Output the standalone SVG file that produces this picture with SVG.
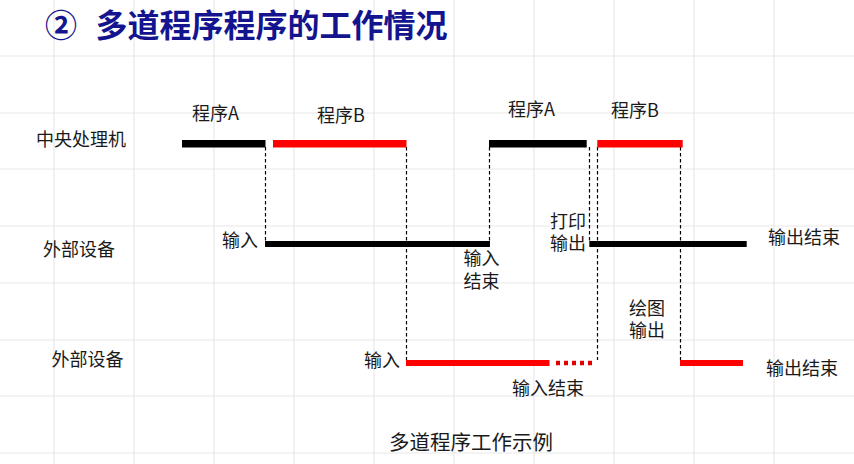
<svg xmlns="http://www.w3.org/2000/svg" width="854" height="464" viewBox="0 0 854 464">
  <style>
    .grid line { stroke: #e8e8e8; stroke-width: 1.2; }
    .lbl { font-family: "Noto Sans CJK SC", "Liberation Serif", sans-serif; font-size: 18px; fill: #1a1a1a; }
    .title { font-family: "Noto Sans CJK SC", "Liberation Sans", sans-serif; font-size: 32px; font-weight: 700; fill: #14148f; }
    .dash { stroke: #000; stroke-width: 1.2; stroke-dasharray: 3.5 2.5; fill: none; }
    .blk { fill: #000; }
    .red { fill: #ff0000; }
  </style>
  <rect x="0" y="0" width="854" height="464" fill="#ffffff"/>
  <g class="grid">
    <line x1="54" y1="0" x2="54" y2="464"/>
    <line x1="134" y1="0" x2="134" y2="464"/>
    <line x1="214" y1="0" x2="214" y2="464"/>
    <line x1="294" y1="0" x2="294" y2="464"/>
    <line x1="374" y1="0" x2="374" y2="464"/>
    <line x1="454" y1="0" x2="454" y2="464"/>
    <line x1="534" y1="0" x2="534" y2="464"/>
    <line x1="614" y1="0" x2="614" y2="464"/>
    <line x1="694" y1="0" x2="694" y2="464"/>
    <line x1="774" y1="0" x2="774" y2="464"/>
    <line x1="0" y1="56" x2="854" y2="56"/>
    <line x1="0" y1="113" x2="854" y2="113"/>
    <line x1="0" y1="169" x2="854" y2="169"/>
    <line x1="0" y1="226" x2="854" y2="226"/>
    <line x1="0" y1="283" x2="854" y2="283"/>
    <line x1="0" y1="340" x2="854" y2="340"/>
    <line x1="0" y1="396" x2="854" y2="396"/>
    <line x1="0" y1="453" x2="854" y2="453"/>
  </g>

  <g id="title">
    <text class="title" x="45" y="37">②</text>
    <text class="title" x="95.5" y="37">多道程序程序的工作情况</text>
  </g>

  <g id="row-labels">
    <text class="lbl" x="36" y="146">中央处理机</text>
    <text class="lbl" x="43" y="256">外部设备</text>
    <text class="lbl" x="51.5" y="366">外部设备</text>
  </g>

  <g id="connectors">
    <line class="dash" x1="265.5" y1="147" x2="265.5" y2="241"/>
    <line class="dash" x1="406.5" y1="147" x2="406.5" y2="360"/>
    <line class="dash" x1="489.5" y1="147" x2="489.5" y2="241"/>
    <line class="dash" x1="589.5" y1="147" x2="589.5" y2="241"/>
    <line class="dash" x1="597.5" y1="147" x2="597.5" y2="360"/>
    <line class="dash" x1="680.5" y1="147" x2="680.5" y2="360"/>
  </g>

  <g id="cpu-progA-1">
    <rect class="blk" x="182" y="140" width="83.5" height="7.5"/>
    <text class="lbl" x="192" y="120">程序A</text>
  </g>
  <g id="cpu-progB-1">
    <rect class="red" x="273" y="140" width="133.5" height="7.5"/>
    <text class="lbl" x="317" y="122">程序B</text>
  </g>
  <g id="cpu-progA-2">
    <rect class="blk" x="489" y="140" width="97.7" height="7.5"/>
    <text class="lbl" x="508" y="116">程序A</text>
  </g>
  <g id="cpu-progB-2">
    <rect class="red" x="597.3" y="140" width="85.4" height="7.5"/>
    <text class="lbl" x="611" y="116.5">程序B</text>
  </g>

  <g id="dev1-input">
    <rect class="blk" x="265" y="241" width="225" height="6"/>
    <text class="lbl" x="222" y="247">输入</text>
    <text class="lbl" y="265"><tspan x="463.5">输入</tspan><tspan x="463.5" dy="22.5">结束</tspan></text>
  </g>
  <g id="dev1-print">
    <rect class="blk" x="589.3" y="241" width="157.4" height="6"/>
    <text class="lbl" y="227.5"><tspan x="550">打印</tspan><tspan x="550" dy="22.5">输出</tspan></text>
    <text class="lbl" x="768" y="243.5">输出结束</text>
  </g>

  <g id="dev2-input">
    <rect class="red" x="406" y="360" width="143.5" height="6"/>
    <line x1="556" y1="363" x2="592" y2="363" stroke="#e00000" stroke-width="4.5" stroke-dasharray="4 4"/>
    <text class="lbl" x="364" y="367">输入</text>
    <text class="lbl" x="512" y="395">输入结束</text>
  </g>
  <g id="dev2-plot">
    <rect class="red" x="680" y="360" width="63" height="6"/>
    <text class="lbl" y="314.5"><tspan x="629">绘图</tspan><tspan x="629" dy="22">输出</tspan></text>
    <text class="lbl" x="766" y="375">输出结束</text>
  </g>

  <g id="caption">
    <text class="lbl" x="389" y="450" style="font-size:20.5px">多道程序工作示例</text>
  </g>
</svg>
